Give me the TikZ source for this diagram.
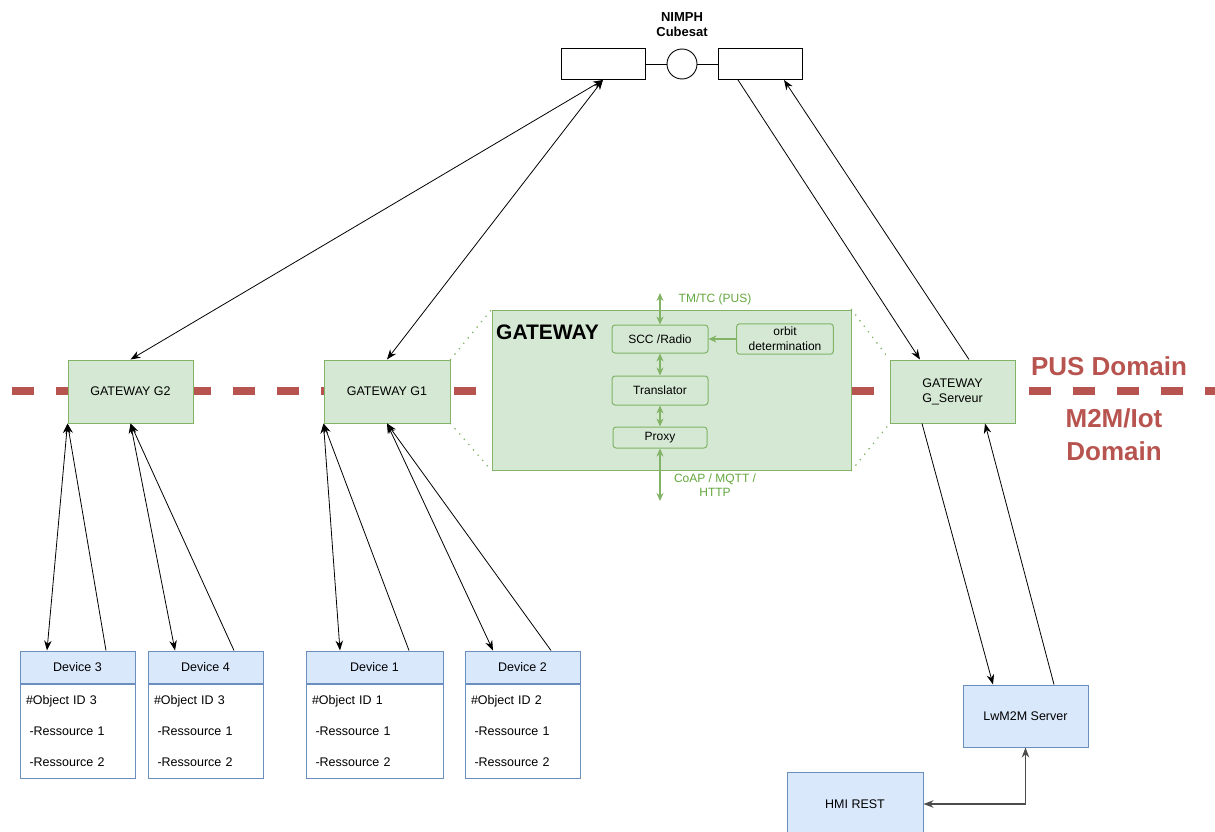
\documentclass[tikz,border=0pt]{standalone}
\usepackage{fontspec}
\setmainfont{Liberation Sans}
\usetikzlibrary{arrows.meta}
\definecolor{gwfill}{HTML}{D5E8D4}
\definecolor{gwline}{HTML}{82B366}
\definecolor{gwtext}{RGB}{100,166,62}
\definecolor{devfill}{HTML}{DAE8FC}
\definecolor{devline}{HTML}{6C8EBF}
\definecolor{domred}{HTML}{B85450}
\begin{document}
\begin{tikzpicture}[x=1pt, y=-1pt,
   every node/.style={font=\fontsize{12.5}{15}\selectfont},
   >={Stealth[length=10pt,width=7.5pt]},
   gw/.style={rectangle, draw=gwline, fill=gwfill, line width=1pt, minimum width=125pt, minimum height=63pt, align=center},
   inbox/.style={rectangle, rounded corners=3pt, draw=gwline, fill=gwfill, line width=1pt, minimum width=96pt, minimum height=28pt, align=center, font=\fontsize{12}{15}\selectfont},
   devhead/.style={rectangle, draw=devline, fill=devfill, line width=1pt, minimum height=32pt},
   devbody/.style={rectangle, draw=devline, fill=white, line width=1pt, minimum height=94pt, inner sep=6pt, align=left, anchor=north, font=\fontsize{12.5}{31}\selectfont},
   panel/.style={rectangle, draw=black, fill=white, line width=0.9pt, minimum width=84pt, minimum height=31pt},
   link/.style={black, line width=0.8pt},
   glink/.style={gwline, line width=1.5pt, >={Stealth[length=8pt,width=7pt]}},
   dotlink/.style={gwline, line width=1.8pt, dash pattern=on 0pt off 7pt, line cap=round},
   domlabel/.style={text=domred, font=\bfseries\fontsize{26}{33}\selectfont, align=center}]
\useasboundingbox (0,0) rectangle (1215,832);

% domain border
\draw[domred, line width=8pt, dash pattern=on 22pt off 22.2pt] (12,391) -- (1215,391);
\node[domlabel] (pus) at (1109,366) {PUS Domain};
\node[domlabel] (m2m) at (1114,435) {M2M/Iot\\Domain};

% cubesat
\node[font=\bfseries\fontsize{13}{15}\selectfont, align=center] (nimph) at (682,25) {NIMPH\\Cubesat};
\node[panel] (satL) at (603,64) {};
\node[panel] (satR) at (760,64) {};
\node[circle, draw=black, fill=white, line width=0.9pt, minimum size=30pt, inner sep=0pt] (sat) at (682,64) {};
\draw[line width=0.9pt] (satL.east) -- (sat.west) (sat.east) -- (satR.west);

% gateways
\node[gw] (g2) at (130.5,391.5) {GATEWAY G2};
\node[gw, minimum width=126pt] (g1) at (387,391.5) {GATEWAY G1};
\node[gw] (gs) at (952.5,391.5) {GATEWAY\\G\_Serveur};

% gateway detail
\node[gw, minimum width=359pt, minimum height=160pt] (big) at (671.5,390) {};
\node[anchor=north west, font=\bfseries\fontsize{21}{24}\selectfont, inner sep=0pt] (bigtitle) at (496,324.5) {GATEWAY};
\node[inbox] (scc) at (660,339) {SCC /Radio};
\node[inbox, minimum height=29pt, text width=90pt] (orbit) at (785,339) {orbit\\determination};
\node[inbox, minimum height=29pt] (trans) at (660,390.5) {Translator};
\node[inbox, minimum width=94pt, minimum height=21pt] (proxy) at (660,437.5) {Proxy};
\coordinate (pustop) at (660,293);
\coordinate (coapbot) at (660,501);
\draw[glink, <->] (pustop) -- (scc.north);
\draw[glink, <->] (scc.south) -- (trans.north);
\draw[glink, <->] (trans.south) -- (proxy.north);
\draw[glink, <->] (proxy.south) -- (coapbot);
\draw[glink, ->] (orbit.west) -- (scc.east);
\node[text=gwtext, font=\fontsize{12}{14}\selectfont] (tmtc) at (715,299) {TM/TC (PUS)};
\node[text=gwtext, font=\fontsize{12}{14}\selectfont, align=center] (coap) at (715,485) {CoAP / MQTT /\\HTTP};
\draw[dotlink] (g1.north east) -- (big.north west);
\draw[dotlink] (g1.south east) -- (big.south west);
\draw[dotlink] (big.north east) -- (gs.north west);
\draw[dotlink] (big.south east) -- (gs.south west);

% devices
\foreach \name/\x/\w/\num/\id in {dev3/77.5/115/3/3, dev4/205.5/115/4/3, dev1/374.5/137/1/1, dev2/522.5/115/2/2}{
   \node[devhead, minimum width=\w pt] (\name) at (\x,667) {Device \num};
   \node[devbody, minimum width=\w pt, text width=\w pt-12pt] (\name b) at (\name.south) {\#Object ID \id\\\hspace{3.5pt}-Ressource 1\\\hspace{3.5pt}-Ressource 2};
   }

% server side
\node[rectangle, draw=devline, fill=devfill, line width=1pt, minimum width=125pt, minimum height=62pt] (lwm2m) at (1025.5,716) {LwM2M Server};
\node[rectangle, draw=devline, fill=devfill, line width=1pt, minimum width=136pt, minimum height=64pt] (hmi) at (855,804) {HMI REST};
\draw[black!70, line width=1.6pt, <->] (lwm2m.south) |- (hmi.east);

% links
\draw[link, <->] (g2.north) -- (satL.south);
\draw[link, <->] (g1.north) -- (satL.south);
\draw[link, ->] ([xshift=-22pt]satR.south) -- ([xshift=-32.5pt]gs.north);
\draw[link, ->] ([xshift=16.5pt]gs.north) -- ([xshift=24pt]satR.south);
\draw[link, ->] ([xshift=-30.5pt]gs.south) -- ([xshift=-32.5pt]lwm2m.north);
\draw[link, ->] ([xshift=28.5pt]lwm2m.north) -- ([xshift=32.5pt]gs.south);
\draw[link, <->] (g2.south west) -- ([xshift=-30.5pt]dev3.north);
\draw[link, ->] ([xshift=28.5pt]dev3.north) -- (g2.south west);
\draw[link, <->] (g2.south) -- ([xshift=-30.5pt]dev4.north);
\draw[link, ->] ([xshift=28.5pt]dev4.north) -- (g2.south);
\draw[link, <->] (g1.south west) -- ([xshift=-34.5pt]dev1.north);
\draw[link, ->] ([xshift=34.5pt]dev1.north) -- (g1.south west);
\draw[link, <->] (g1.south) -- ([xshift=-29.5pt]dev2.north);
\draw[link, ->] ([xshift=28.5pt]dev2.north) -- (g1.south);
\end{tikzpicture}
\end{document}
